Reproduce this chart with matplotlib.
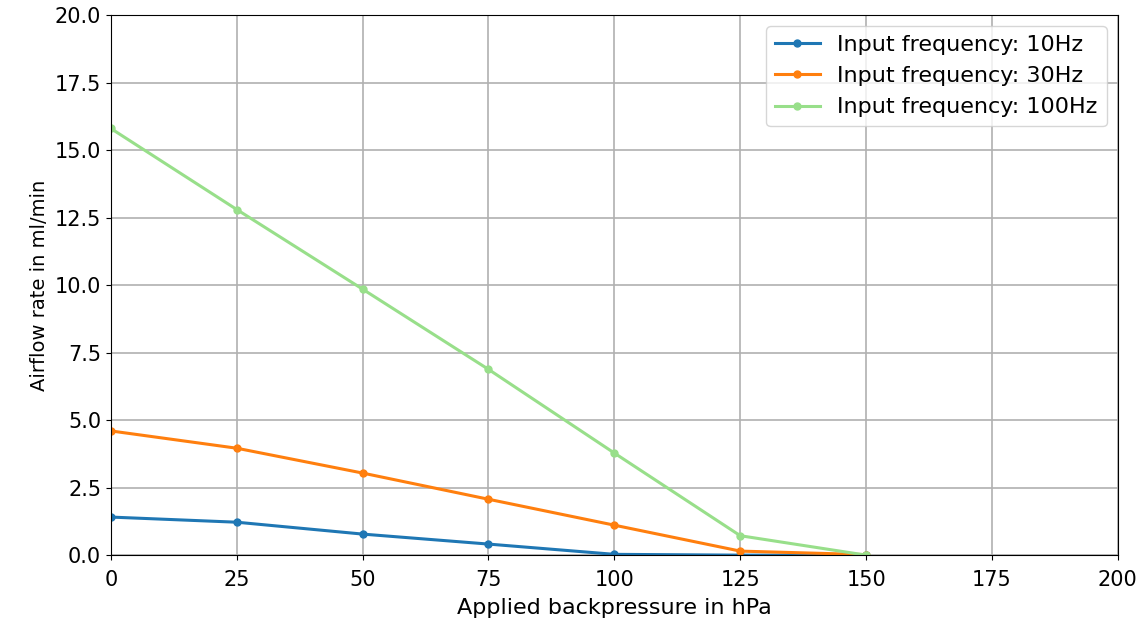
import matplotlib
matplotlib.use('Agg')
import matplotlib.pyplot as plt

pressure = [0, 25, 50, 75, 100, 125, 150]
flow_10hz = [1.41, 1.22, 0.78, 0.41, 0.03, 0.0, 0.0]
flow_30hz = [4.6, 3.96, 3.04, 2.07, 1.11, 0.15, 0.02]
flow_100hz = [15.8, 12.8, 9.85, 6.88, 3.78, 0.72, 0.0]

plt.rcParams['font.size'] = 15

fig = plt.figure(figsize=(11.43, 6.28), dpi=100)
ax = fig.add_axes([0.097, 0.116, 0.881, 0.86])

ax.plot(pressure, flow_10hz, 'o-', color='#1f77b4', lw=2.2, markersize=5, label='Input frequency: 10Hz')
ax.plot(pressure, flow_30hz, 'o-', color='#ff7f0e', lw=2.2, markersize=5, label='Input frequency: 30Hz')
ax.plot(pressure, flow_100hz, 'o-', color='#98df8a', lw=2.2, markersize=5, label='Input frequency: 100Hz')

ax.set_xlim(0, 200)
ax.set_ylim(0, 20)
ax.set_xticks(range(0, 201, 25))
ax.set_yticks([0, 2.5, 5, 7.5, 10, 12.5, 15, 17.5, 20])
ax.set_yticklabels(['0.0', '2.5', '5.0', '7.5', '10.0', '12.5', '15.0', '17.5', '20.0'])
ax.tick_params(labelsize=15)
ax.tick_params(axis='x', pad=7)
ax.grid(True, color='#b0b0b0', lw=1.2)
ax.set_xlabel('Applied backpressure in hPa', fontsize=16, labelpad=6)
ax.set_ylabel('Airflow rate in ml/min', fontsize=14)
ax.legend(loc='upper right', fontsize=16)

fig.savefig('out.png')
